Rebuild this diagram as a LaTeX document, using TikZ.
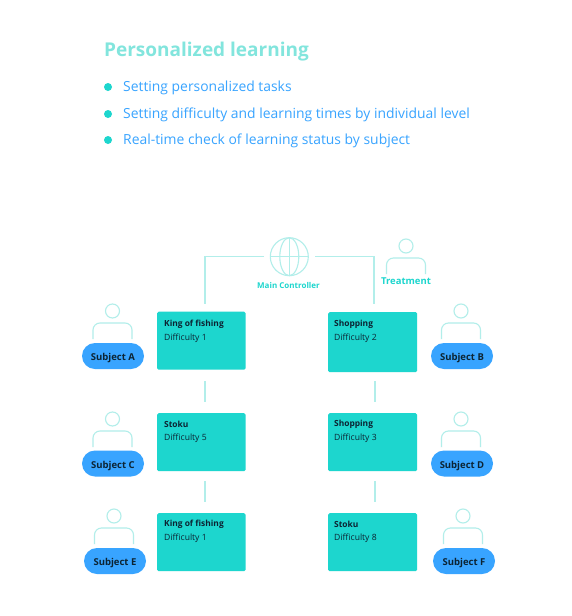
\documentclass[tikz,border=0pt]{standalone}
\usepackage{fontspec}
\setmainfont{Open Sans}
\definecolor{teal1}{HTML}{1DD6CE}
\definecolor{blue1}{HTML}{38A4FF}
\definecolor{title1}{HTML}{82E5DD}
\definecolor{line1}{HTML}{B2EEEA}
\definecolor{dark1}{HTML}{0C2433}
\tikzset{
  box/.style={fill=teal1,rounded corners=1.5pt,draw=none,minimum width=89pt,minimum height=58pt,inner sep=0pt,anchor=north west},
  boxhead/.style={font=\fontsize{8.4}{10}\selectfont\bfseries,text=dark1,anchor=west,inner sep=0pt},
  boxtext/.style={font=\fontsize{8.6}{10}\selectfont,text=dark1,anchor=west,inner sep=0pt},
  pill/.style={fill=blue1,rounded corners=13pt,minimum width=62pt,minimum height=26pt,inner sep=0pt,text=dark1,text height=9pt,text depth=0pt,font=\fontsize{9.5}{11}\selectfont\bfseries},
  wire/.style={draw=line1,line width=1.1pt},
  bulletdot/.style={circle,fill=teal1,minimum size=8pt,inner sep=0pt},
  bullettext/.style={font=\fontsize{13.9}{17}\selectfont,text=blue1,anchor=west,inner sep=0pt},
  headring/.style={circle,draw=line1,line width=1.1pt,inner sep=0pt},
}
\newcommand{\personicon}[3]{% name, x, y of head centre
  \node[headring,minimum size=14pt] (#1h) at (#2,#3) {};
  \draw[wire,rounded corners=7pt] (#2-19.5,#3+28) -- (#2-19.5,#3+12) -- (#2+19.5,#3+12) -- (#2+19.5,#3+28);
}
\begin{document}
\begin{tikzpicture}[x=1pt,y=-1pt]
\useasboundingbox[fill=white] (0,0) rectangle (572,616);
% header
\node[font=\fontsize{19}{23}\selectfont\bfseries,text=title1,anchor=west,inner sep=0pt] (title) at (104,52) {Personalized learning};
\node[bulletdot] (b1) at (108,87) {};
\node[bulletdot] (b2) at (108,114) {};
\node[bulletdot] (b3) at (108,140) {};
\node[bullettext] (t1) at (123,88) {Setting personalized tasks};
\node[bullettext] (t2) at (123,115) {Setting difficulty and learning times by individual level};
\node[bullettext] (t3) at (123,141) {Real-time check of learning status by subject};
% controller
\node[circle,draw=line1,line width=1.1pt,minimum size=38pt,inner sep=0pt] (globe) at (289.3,256.7) {};
\draw[wire] (globe.west) -- (globe.east);
\draw[wire] (globe.north) -- (globe.south);
\draw[wire] (globe.center) ellipse [x radius=9.5pt,y radius=19pt];
\node[font=\fontsize{8}{10}\selectfont\bfseries,text=teal1,inner sep=0pt] (mc) at (288.5,285) {Main Controller};
% treatment
\personicon{tr}{406}{246}
\node[font=\fontsize{9.5}{11}\selectfont\bfseries,text=teal1,inner sep=0pt] (trl) at (406,281) {Treatment};
% task boxes
\node[box,minimum width=88.5pt] (k1) at (157,311.5) {};
\node[box,minimum height=60pt] (s2) at (328,312) {};
\node[box,minimum width=88.5pt] (s5) at (157,413) {};
\node[box] (s3) at (328,413) {};
\node[box,minimum width=88.5pt] (k2) at (157,513) {};
\node[box] (s8) at (328,513) {};
\node[boxhead] at (164,324) {King of fishing};
\node[boxtext] at (164,338) {Difficulty 1};
\node[boxhead] at (334,324) {Shopping};
\node[boxtext] at (334,338) {Difficulty 2};
\node[boxhead] at (164,424) {Stoku};
\node[boxtext] at (164,438) {Difficulty 5};
\node[boxhead] at (334,424) {Shopping};
\node[boxtext] at (334,438) {Difficulty 3};
\node[boxhead] at (164,524) {King of fishing};
\node[boxtext] at (164,538) {Difficulty 1};
\node[boxhead] at (334,524) {Stoku};
\node[boxtext] at (334,538) {Difficulty 8};
% connectors
\coordinate (wl) at (264,256.7);
\coordinate (wlb) at (205,304);
\coordinate (wr) at (315,256.7);
\coordinate (wrb) at (374,304);
\draw[wire] (wl) -| (wlb);
\draw[wire] (wr) -| (wrb);
\coordinate (a1) at (205,381); \coordinate (a2) at (205,402);
\coordinate (a3) at (205,481); \coordinate (a4) at (205,502);
\coordinate (c1) at (375,381); \coordinate (c2) at (375,402);
\coordinate (c3) at (375,481); \coordinate (c4) at (375,502);
\draw[wire] (a1) -- (a2);
\draw[wire] (a3) -- (a4);
\draw[wire] (c1) -- (c2);
\draw[wire] (c3) -- (c4);
% subjects
\personicon{pa}{112.5}{311}
\personicon{pb}{461}{311}
\personicon{pc}{112.5}{419}
\personicon{pd}{461}{419}
\personicon{pe}{114}{516}
\personicon{pf}{463}{516}
\node[pill] (sa) at (113,356) {Subject A};
\node[pill] (sb) at (462,356) {Subject B};
\node[pill] (sc) at (113,463.5) {Subject C};
\node[pill] (sd) at (462,463.5) {Subject D};
\node[pill] (se) at (115,561) {Subject E};
\node[pill] (sf) at (464,561) {Subject F};
\end{tikzpicture}
\end{document}
